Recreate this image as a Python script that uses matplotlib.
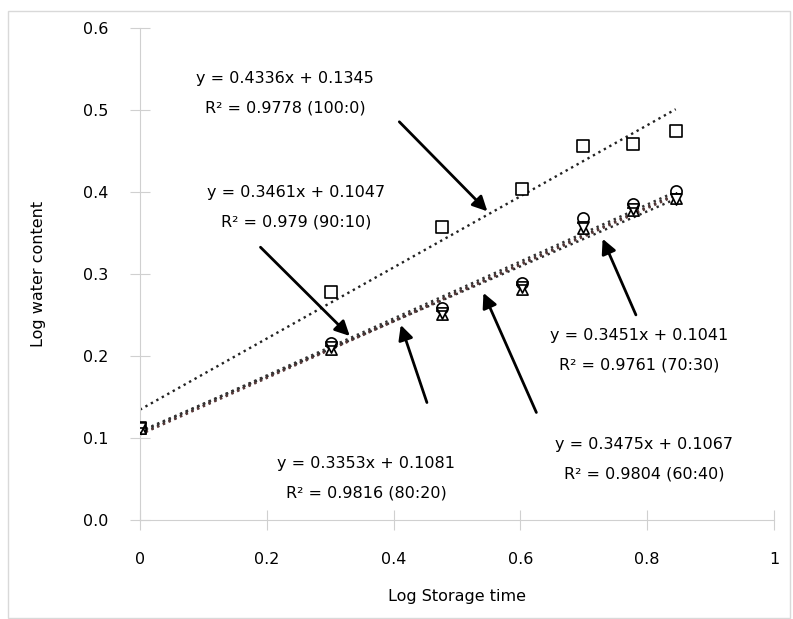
import numpy as np
import matplotlib.pyplot as plt
from matplotlib.patches import Rectangle

# Log storage time (log of days 1..7)
log_time = [0.0, 0.301, 0.477, 0.602, 0.699, 0.778, 0.845]

# Log water content for each ratio
wc_100_0 = [0.112, 0.278, 0.357, 0.404, 0.456, 0.459, 0.474]
wc_90_10 = [0.112, 0.216, 0.258, 0.289, 0.368, 0.385, 0.401]
wc_80_20 = [0.112, 0.209, 0.251, 0.282, 0.356, 0.378, 0.393]
wc_70_30 = [0.112, 0.211, 0.253, 0.284, 0.357, 0.379, 0.392]
wc_60_40 = [0.112, 0.212, 0.255, 0.286, 0.362, 0.381, 0.397]

ratios = ['100:0', '90:10', '80:20', '70:30', '60:40']
slopes = [0.4336, 0.3461, 0.3353, 0.3451, 0.3475]
intercepts = [0.1345, 0.1047, 0.1081, 0.1041, 0.1067]
r2 = ['0.9778', '0.979', '0.9816', '0.9761', '0.9804']

series = [wc_100_0, wc_90_10, wc_80_20, wc_70_30, wc_60_40]
markers = ['s', 'o', '^', 'v', '_']
line_colors = ['#222222', '#3a2a2a', '#2a2a2a', '#5a3a3a', '#333333']

fig = plt.figure(figsize=(7.93, 6.19), dpi=100)
ax = fig.add_axes([0.1765, 0.16, 0.7995, 0.7948])

# border around the chart
fig.patches.append(Rectangle((0.010, 0.002), 0.986, 0.98, transform=fig.transFigure,
                             fill=False, edgecolor='#d9d9d9', lw=1))

x_line = np.array([0, max(log_time)])
for vals, m, c, a, b in zip(series, markers, line_colors, slopes, intercepts):
    ax.plot(x_line, a * x_line + b, linestyle=':', color=c, lw=1.7, zorder=2)
    ax.scatter(log_time, vals, marker=m, s=75 if m == 's' else 65,
               facecolors='white' if m != '_' else 'black',
               edgecolors='black', linewidths=1.2, zorder=3)

ax.set_xlim(0, 1)
ax.set_ylim(0, 0.6)
ax.set_xticks([0, 0.2, 0.4, 0.6, 0.8, 1])
ax.set_xticklabels(['0', '0.2', '0.4', '0.6', '0.8', '1'])
ax.set_yticks(np.arange(0, 0.61, 0.1))
ax.set_yticklabels(['0.0', '0.1', '0.2', '0.3', '0.4', '0.5', '0.6'])

for s in ['top', 'right']:
    ax.spines[s].set_visible(False)
for s in ['left', 'bottom']:
    ax.spines[s].set_color('#d0d0d0')
ax.tick_params(direction='inout', length=14, color='#d0d0d0', labelsize=11.5)
ax.tick_params(axis='y', pad=16)
ax.tick_params(axis='x', pad=16)

ax.set_xlabel('Log Storage time', fontsize=11.5, labelpad=16)
ax.set_ylabel('Log water content', fontsize=11.5, labelpad=26)

# equation labels with arrows: (text x, text y, arrow tail, arrow head)
label_pos = [(0.229, 0.52, (0.406, 0.488), (0.551, 0.374)),
             (0.246, 0.381, (0.187, 0.335), (0.334, 0.222)),
             (0.357, 0.051, (0.454, 0.140), (0.41, 0.241)),
             (0.787, 0.207, (0.784, 0.247), (0.728, 0.346)),
             (0.795, 0.074, (0.627, 0.128), (0.540, 0.280))]

for ratio, a, b, r, (tx, ty, tail, head) in zip(ratios, slopes, intercepts, r2, label_pos):
    ax.text(tx, ty, f'y = {a}x + {b}\nR² = {r} ({ratio})', ha='center', va='center',
            fontsize=11.5, linespacing=2.2)
    ax.annotate('', xy=head, xytext=tail,
                arrowprops=dict(arrowstyle='-|>', color='black', lw=2, mutation_scale=22))

fig.savefig('out.png', dpi=100)
